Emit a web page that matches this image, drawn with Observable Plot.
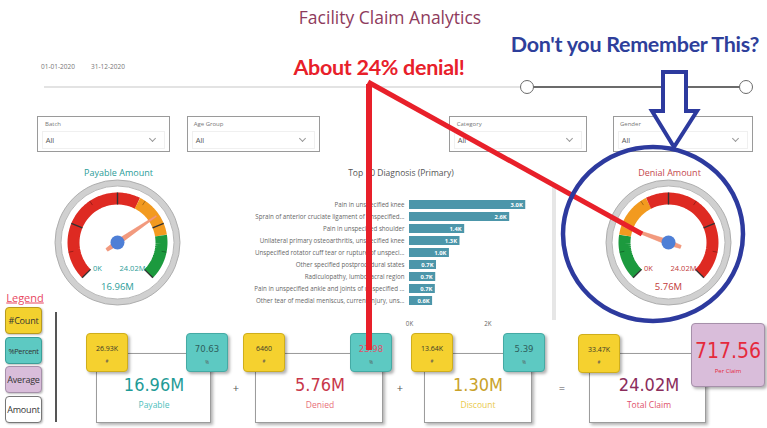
<!DOCTYPE html>
<html>
<head>
<meta charset="utf-8">
<script src="https://cdn.jsdelivr.net/npm/d3@7"></script>
<script src="https://cdn.jsdelivr.net/npm/@observablehq/plot@0.6"></script>
<style>
  body { margin: 0; background: #fff; }
  #dash { position: relative; width: 767px; height: 428px; overflow: hidden; background: #fff;
          font-family: "Open Sans", "Noto Sans", sans-serif; }
  .a { position: absolute; box-sizing: border-box; }
  .c { position: absolute; transform: translate(-50%, -50%); white-space: nowrap; line-height: 1; }
  svg.overlay { position: absolute; left: 0; top: 0; pointer-events: none; }
</style>
</head>
<body>
<div id="dash"></div>
<script>
// ---------------- data ----------------
const pageTitle = "Facility Claim Analytics";
const dateRange = ["01-01-2020", "31-12-2020"];
const filterNames = ["Batch", "Age Group", "Category", "Gender"];
const filterValue = "All";

const barTitle = "Top 10 Diagnosis (Primary)";
const diagnoses = [
  "Pain in unspecified knee",
  "Sprain of anterior cruciate ligament of unspecified...",
  "Pain in unspecified shoulder",
  "Unilateral primary osteoarthritis, unspecified knee",
  "Unspecified rotator cuff tear or rupture of unspeci...",
  "Other specified postprocedural states",
  "Radiculopathy, lumbosacral region",
  "Pain in unspecified ankle and joints of unspecified ...",
  "Other tear of medial meniscus, current injury, uns..."
];
const diagnosisCounts = [2970, 2560, 1410, 1290, 1020, 690, 670, 660, 590];
const diagnosisTicks = [0, 2000];

const gaugeTitles = ["Payable Amount", "Denial Amount"];
const gaugeValues = [16.96, 5.76];          // millions
const gaugeMax = 24.02;                     // millions
const gaugeMinLabel = "0K";
const gaugeMaxLabel = "24.02M";
const gaugeValueLabels = ["16.96M", "5.76M"];
const payableBandEdges = [0, 0.6, 0.8, 1];  // fraction of max
const payableBandColors = ["#DE2A22", "#F29A1F", "#1C9A3E"];
const denialBandEdges = [0, 0.2, 0.4, 1];
const denialBandColors = ["#1C9A3E", "#F29A1F", "#DE2A22"];

const legendItems = ["#Count", "%Percent", "Average", "Amount"];
const kpiNames = ["Payable", "Denied", "Discount", "Total Claim"];
const kpiAmounts = ["16.96M", "5.76M", "1.30M", "24.02M"];
const kpiCounts = ["26.93K", "6460", "13.64K", "33.47K"];
const kpiPercents = ["70.63", "23.98", "5.39"];
const kpiOperators = ["+", "+", "="];
const perClaim = "717.56";
const perClaimLabel = "Per Claim";

const note1 = "About 24% denial!";
const note2 = "Don't you Remember This?";

// ---------------- helpers ----------------
const dash = document.getElementById("dash");
function div(cls, style, html) {
  const e = document.createElement("div");
  e.className = cls;
  Object.assign(e.style, style);
  if (html != null) e.innerHTML = html;
  dash.appendChild(e);
  return e;
}
function label(text, cx, cy, style) {
  return div("c", Object.assign({ left: cx + "px", top: cy + "px" }, style), text);
}
function box(l, t, w, h, style) {
  return div("a", Object.assign({ left: l + "px", top: t + "px", width: w + "px", height: h + "px" }, style));
}
const narrow = '"Liberation Sans Narrow","DejaVu Sans Condensed",sans-serif';

// ---------------- header ----------------
label(pageTitle, 390, 18, { fontSize: "17.5px", color: "#8E3B5C" });
dateRange.forEach((d, i) => label(d, 58 + i * 50, 67, { fontSize: "6.5px", color: "#777" }));

// slider
box(44, 86, 483, 2, { background: "#e3e3e3" });
box(527, 86, 219, 2, { background: "#6b6b6b" });
[527, 746].forEach(x => box(x - 7, 80, 14, 14, { borderRadius: "50%", border: "1.5px solid #6b6b6b", background: "#fff" }));

// filter slicers
const filterBoxes = [[37, 133], [187, 133], [449, 138], [613, 140]];
filterNames.forEach((name, i) => {
  const [l, w] = filterBoxes[i];
  box(l, 116, w, 36, { border: "1px solid #9a9a9a", background: "#fff" });
  box(l + 5, 131, w - 10, 18, { border: "1px solid #f0f0f0" });
  label(name, l + 9 + name.length * 1.4, 124, { fontSize: "6px", color: "#777" });
  label(filterValue, l + 13, 141, { fontSize: "7.5px", color: "#555" });
  box(l + w - 20, 136, 5, 5, { borderRight: "1px solid #999", borderBottom: "1px solid #999", transform: "rotate(45deg)" });
});

// ---------------- gauges (Plot) ----------------
function gauge(title, value, edges, colors, titleColor, textColor, valueLabel) {
  const frac = value / gaugeMax;
  const pt = (f, r) => {
    const a = (-135 + 270 * f) * Math.PI / 180;
    return { x: r * Math.sin(a), y: r * Math.cos(a) };
  };
  const arc = [];
  colors.forEach((c, i) => {
    const steps = 40;
    for (let k = 0; k <= steps; k++) {
      const f = edges[i] + (edges[i + 1] - edges[i]) * k / steps;
      arc.push({ ...pt(f, 44), band: i, color: c });
    }
  });
  const major = [0, 0.25, 0.5, 0.75, 1].map(f => ({ a: pt(f, 38), b: pt(f, 50) }));
  const minor = [0.125, 0.375, 0.625, 0.875].map(f => ({ a: pt(f, 45), b: pt(f, 50) }));
  const ang = (-135 + 270 * frac) * Math.PI / 180;
  const d = { x: Math.sin(ang), y: Math.cos(ang) }, n = { x: Math.cos(ang), y: -Math.sin(ang) };
  const P = (s, w) => ({ x: d.x * s + n.x * w, y: d.y * s + n.y * w });
  const needle = [P(47, 0.6), P(0, 2.6), P(-13, 1.6), P(-13, -1.6), P(0, -2.6), P(47, -0.6), P(47, 0.6)];
  const ff = '"Open Sans","Noto Sans",sans-serif';
  return Plot.plot({
    width: 160, height: 160, margin: 0,
    x: { domain: [-80, 80], axis: null },
    y: { domain: [-80, 80], axis: null },
    color: { type: "identity" },
    style: { background: "transparent", fontFamily: ff, overflow: "visible" },
    marks: [
      Plot.dot([{ x: 0, y: 0 }], { x: "x", y: "y", r: 62.5, fill: "#d0d0d0", stroke: "#aeaeae", strokeWidth: 1 }),
      Plot.dot([{ x: 0, y: 0 }], { x: "x", y: "y", r: 56.5, fill: "#fff", stroke: "#b8b8b8", strokeWidth: 1 }),
      Plot.line(arc, { x: "x", y: "y", z: "band", stroke: "color", strokeWidth: 12, strokeLinecap: "butt", strokeLinejoin: "miter" }),
      Plot.link(major, { x1: d => d.a.x, y1: d => d.a.y, x2: d => d.b.x, y2: d => d.b.y, stroke: "#333", strokeWidth: 1.4 }),
      Plot.link(minor, { x1: d => d.a.x, y1: d => d.a.y, x2: d => d.b.x, y2: d => d.b.y, stroke: "#000", strokeOpacity: 0.3, strokeWidth: 1 }),
      Plot.line(needle, { x: "x", y: "y", fill: "#F29A7E", stroke: "#EE8A6C", strokeWidth: 0.5 }),
      Plot.dot([{ x: 0, y: 0 }], { x: "x", y: "y", r: 7, fill: "#4E7FD6" }),
      Plot.text([{ x: 1, y: 69, t: title }], { x: "x", y: "y", text: "t", fill: titleColor, fontSize: 9 }),
      Plot.text([{ x: -20, y: -26, t: gaugeMinLabel }], { x: "x", y: "y", text: "t", fill: textColor, fontSize: 7.5 }),
      Plot.text([{ x: 15, y: -26, t: gaugeMaxLabel }], { x: "x", y: "y", text: "t", fill: textColor, fontSize: 7.5 }),
      Plot.text([{ x: 0, y: -44, t: valueLabel }], { x: "x", y: "y", text: "t", fill: textColor, fontSize: 9.5 })
    ]
  });
}
const g1 = gauge(gaugeTitles[0], gaugeValues[0], payableBandEdges, payableBandColors, "#2A9C98", "#2A9C98", gaugeValueLabels[0]);
Object.assign(g1.style, { position: "absolute", left: (117 - 80) + "px", top: (242 - 80) + "px" });
dash.appendChild(g1);
const g2 = gauge(gaugeTitles[1], gaugeValues[1], denialBandEdges, denialBandColors, "#C4474C", "#C23A3A", gaugeValueLabels[1]);
Object.assign(g2.style, { position: "absolute", left: (668 - 80) + "px", top: (242 - 80) + "px" });
dash.appendChild(g2);

// ---------------- bar chart (Plot) ----------------
label(barTitle, 401, 173, { fontSize: "8.5px", color: "#555" });
box(552, 187, 4, 133, { background: "#e6e6e6" });
const barData = diagnoses.map((name, i) => ({ name, count: diagnosisCounts[i] }));
const bars = Plot.plot({
  width: 296, height: 168,
  marginTop: 28.5, marginBottom: 22.2, marginLeft: 159, marginRight: 0,
  x: { domain: [0, 3500], ticks: diagnosisTicks, tickFormat: d => d / 1000 + "K", tickSize: 0, tickPadding: 10, label: null },
  y: { domain: diagnoses, padding: 0.29, tickSize: 0, tickPadding: 5, label: null },
  style: { background: "transparent", fontSize: "6.2px", color: "#666", fontFamily: '"Open Sans","Noto Sans",sans-serif', overflow: "visible" },
  marks: [
    Plot.barX(barData, { x: "count", y: "name", fill: "#4C96AA" }),
    Plot.text(barData, { x: "count", y: "name", text: d => d3.format(".1f")(d.count / 1000) + "K", textAnchor: "end", dx: -3, fill: "#fff", fontWeight: "bold", fontSize: 5.8 })
  ]
});
Object.assign(bars.style, { position: "absolute", left: "250px", top: "165px" });
dash.appendChild(bars);

// ---------------- legend ----------------
label("Legend", 25, 297, { fontSize: "11px", color: "#E8475F", textDecoration: "underline" });
const legendStyles = [
  { background: "#F3D12E", border: "1px solid #b89a1e" },
  { background: "#5DC9C2", border: "1px solid #3a9f99", fontSize: "7.4px", letterSpacing: "-0.3px" },
  { background: "#D9BDDA", border: "1px solid #a690aa" },
  { background: "#fff", border: "1px solid #777" }
];
const legendTops = [307, 337, 366, 396];
legendItems.forEach((t, i) => {
  const b = box(5, legendTops[i], 37, 27, Object.assign({ borderRadius: "4px", overflow: "hidden", display: "flex",
    alignItems: "center", justifyContent: "center", fontSize: "9px", color: "#333", whiteSpace: "nowrap",
    letterSpacing: "-0.2px", boxShadow: "1px 1px 2px rgba(0,0,0,0.25)" }, legendStyles[i]));
  const s = document.createElement("span");
  s.style.flexShrink = "0";
  s.textContent = t;
  b.appendChild(s);
});
box(55, 312, 2, 110, { background: "#555" });

// ---------------- KPI cards ----------------
const cards = [
  { box: [96, 353, 115, 70], cnt: [86, 333], pct: [186, 333], vx: 154, valColor: "#1F9B97", labColor: "#4CC0BC", pctColor: "#2F5F5C" },
  { box: [255, 353, 128, 70], cnt: [243, 333], pct: [350, 333], vx: 320, valColor: "#C8374A", labColor: "#E8707A", pctColor: "#E0506A" },
  { box: [424, 353, 108, 70], cnt: [411, 333], pct: [503, 333], vx: 478, valColor: "#C9A22A", labColor: "#E9C94A", pctColor: "#2F5F5C" },
  { box: [589, 353, 117, 70], cnt: [578, 334], pct: null, vx: 649, valColor: "#8B2D5C", labColor: "#E0506A" }
];
const shadow = "2px 2px 3px rgba(0,0,0,0.3)";
cards.forEach((c, i) => {
  const [l, t, w, h] = c.box;
  box(l, t, w, h, { border: "1.5px solid #9c9c9c", background: "#fff", boxShadow: shadow });
  label(kpiAmounts[i], c.vx, 385, { fontSize: "18px", color: c.valColor, fontFamily: narrow });
  label(kpiNames[i], c.vx, 405, { fontSize: "8.5px", color: c.labColor });
  box(c.cnt[0], c.cnt[1], 42, 39, { background: "#F5D12F", border: "1px solid #cfae1c", borderRadius: "4px", boxShadow: shadow });
  label(kpiCounts[i], c.cnt[0] + 21, c.cnt[1] + 15, { fontSize: "7px", color: "#3a3a2a" });
  label("#", c.cnt[0] + 21, c.cnt[1] + 28, { fontSize: "4.5px", color: "#555" });
  if (c.pct) {
    box(c.pct[0], c.pct[1], 42, 39, { background: "#5DC9C2", border: "1px solid #45aaa4", borderRadius: "4px", boxShadow: shadow });
    label(kpiPercents[i], c.pct[0] + 21, c.pct[1] + 16, { fontSize: "9.5px", color: c.pctColor, fontFamily: narrow });
    label("%", c.pct[0] + 21, c.pct[1] + 29, { fontSize: "4.5px", color: "#555" });
  }
});
[236, 400, 562].forEach((x, i) => label(kpiOperators[i], x, 387, { fontSize: "11px", color: "#555" }));
box(691, 323, 74, 64, { background: "#D9BDDA", border: "1px solid #a690aa", borderRadius: "4px", boxShadow: shadow });
label(perClaim, 728, 351, { fontSize: "21px", color: "#E52A3C", fontFamily: narrow });
label(perClaimLabel, 728, 371, { fontSize: "6px", color: "#E52A3C" });

// ---------------- annotations ----------------
const ns = "http://www.w3.org/2000/svg";
const ov = document.createElementNS(ns, "svg");
ov.setAttribute("class", "overlay");
ov.setAttribute("width", 767); ov.setAttribute("height", 428);
ov.innerHTML = `
  <line x1="369" y1="84" x2="369" y2="350" stroke="#E8202A" stroke-width="6"/>
  <line x1="368" y1="82" x2="642" y2="234" stroke="#E8202A" stroke-width="5"/>
  <ellipse cx="653" cy="234" rx="90" ry="87" fill="none" stroke="#2D3A9E" stroke-width="4.5"/>
  <polygon points="663,72 686,72 686,111 697,111 674,147 652,111 663,111" fill="#fff" stroke="#2D3A9E" stroke-width="4" stroke-linejoin="miter"/>`;
dash.appendChild(ov);
label(note1, 379, 68, { fontSize: "21.5px", fontWeight: "bold", color: "#E8202A", fontFamily: 'Lato,"Open Sans",sans-serif', letterSpacing: "-0.3px" });
label(note2, 635, 45, { fontSize: "21.5px", fontWeight: "bold", color: "#2E3F9B", fontFamily: 'Lato,"Open Sans",sans-serif', letterSpacing: "-0.3px" });
</script>
</body>
</html>
